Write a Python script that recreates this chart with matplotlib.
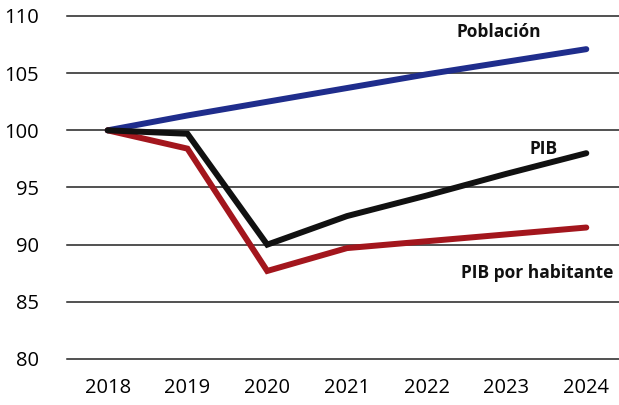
import matplotlib

matplotlib.use("Agg")
import matplotlib.pyplot as plt
from matplotlib import font_manager

years = [2018, 2019, 2020, 2021, 2022, 2023, 2024]
poblacion = [100.0, 101.3, 102.5, 103.7, 104.9, 106.0, 107.1]
pib = [100.0, 99.7, 90.0, 92.5, 94.3, 96.2, 98.0]
pib_habitante = [100.0, 98.4, 87.7, 89.7, 90.3, 90.9, 91.5]

y_ticks = [80, 85, 90, 95, 100, 105, 110]

BLUE = "#1f2d8c"
RED = "#a3161d"
BLACK = "#111111"

installed = {f.name for f in font_manager.fontManager.ttflist}
family = [n for n in ("Liberation Sans Narrow", "Open Sans", "DejaVu Sans") if n in installed]
plt.rcParams["font.family"] = family

W, H = 619, 405
fig = plt.figure(figsize=(W / 100, H / 100), dpi=100)
ax = fig.add_axes([67 / W, (H - 359) / H, (W - 67) / W, (359 - 16) / H])
ax.set_xlim(2017.49, 2024.41)
ax.set_ylim(80, 110)

for v in y_ticks:
    ax.axhline(v, color="#222222", lw=1.1, clip_on=False, zorder=1)

line_kw = dict(lw=4.3, solid_capstyle="round", solid_joinstyle="miter")
ax.plot(years, poblacion, color=BLUE, zorder=3, **line_kw)
ax.plot(years, pib_habitante, color=RED, zorder=3, **line_kw)
ax.plot(years, pib, color=BLACK, zorder=4, **line_kw)

ax.set_yticks(y_ticks)
ax.set_xticks(years)
ax.tick_params(axis="y", length=0, pad=20, labelsize=14.5)
ax.tick_params(axis="x", length=0, pad=14, labelsize=14.5)
for s in ax.spines.values():
    s.set_visible(False)

label_kw = dict(fontsize=12.5, fontweight="bold", ha="center", va="center", color=BLACK)
ax.text(2022.9, 108.6, "Población", **label_kw)
ax.text(2023.46, 98.4, "PIB", **label_kw)
ax.text(2023.38, 87.5, "PIB por habitante", **label_kw)

fig.savefig("out.png", dpi=100)
